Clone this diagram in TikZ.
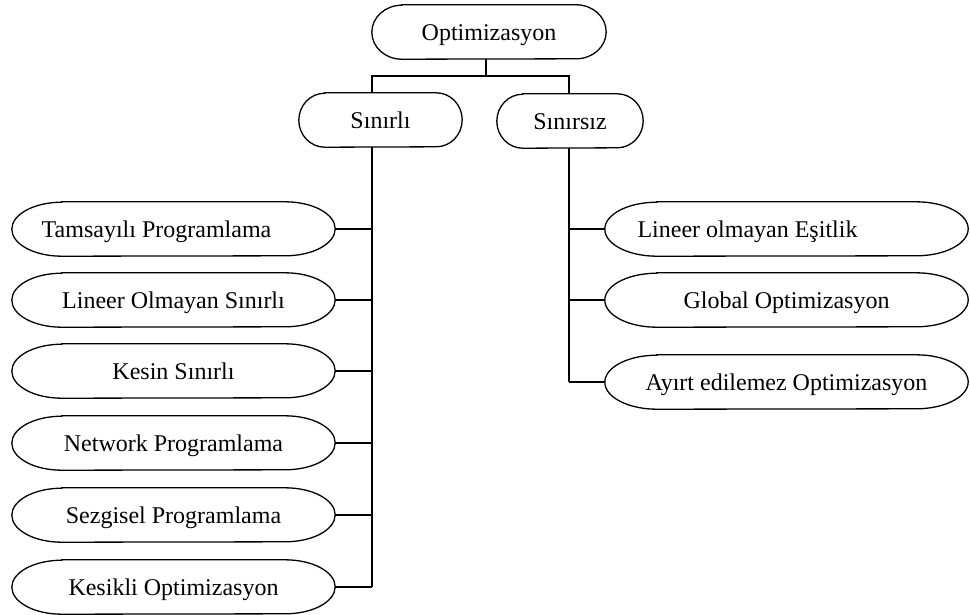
\documentclass[tikz,border=0pt]{standalone}
\usepackage{fontspec}
\setmainfont{Liberation Serif}
\usetikzlibrary{calc}

\tikzset{
  box/.style={draw=none, inner sep=0pt, text height=16pt, text depth=0pt,
    font=\fontsize{24}{28}\selectfont},
  outline/.style={draw=black, line width=1.3pt},
  link/.style={draw=black, line width=1.3pt}
}

\begin{document}
\begin{tikzpicture}[x=1pt, y=-1pt]
  \useasboundingbox (0,0) rectangle (970,614);

  % top levels
  \node[box, minimum width=234pt, minimum height=54pt] (opt) at (489,32) {Optimizasyon};
  \node[box, minimum width=163pt, minimum height=54pt] (sl) at (380.5,120) {Sınırlı};
  \node[box, minimum width=146pt, minimum height=54pt] (ss) at (570,121) {Sınırsız};

  % constrained methods
  \node[box, minimum width=323pt, minimum height=54pt] (l1) at (173.5,229) {Tamsayılı Programlama\kern34pt};
  \node[box, minimum width=323pt, minimum height=54pt] (l2) at (173.5,300) {Lineer Olmayan Sınırlı};
  \node[box, minimum width=323pt, minimum height=54pt] (l3) at (173.5,371) {Kesin Sınırlı};
  \node[box, minimum width=323pt, minimum height=54pt] (l4) at (173.5,443) {Network Programlama};
  \node[box, minimum width=323pt, minimum height=54pt] (l5) at (173.5,515) {Sezgisel Programlama};
  \node[box, minimum width=323pt, minimum height=54pt] (l6) at (173.5,587) {Kesikli Optimizasyon};

  % unconstrained methods
  \node[box, minimum width=363pt, minimum height=54pt] (r1) at (786.5,229) {Lineer olmayan Eşitlik\kern78pt};
  \node[box, minimum width=363pt, minimum height=54pt] (r2) at (786.5,300) {Global Optimizasyon};
  \node[box, minimum width=363pt, minimum height=54pt] (r3) at (786.5,382) {Ayırt edilemez Optimizasyon};

  % rounded outlines (elliptic ends)
  \foreach \n/\r in {opt/30, sl/26, ss/26, l1/50, l2/50, l3/50, l4/50, l5/50, l6/50, r1/52, r2/52, r3/52}{
    \draw[outline] ([xshift=\r pt]\n.north west) -- ([xshift=-\r pt]\n.north east)
      arc[start angle=90, end angle=-90, x radius=\r pt, y radius=27pt]
      -- ([xshift=\r pt]\n.south west)
      arc[start angle=270, end angle=90, x radius=\r pt, y radius=27pt] -- cycle;
  }

  % tree connectors
  \coordinate (busL) at (372,76);
  \coordinate (busR) at (569,76);
  \draw[link] ([xshift=-3pt]opt.south) -- ([xshift=-3pt]opt.south |- busL);
  \draw[link] (busL |- sl.north) -- (busL) -- (busR) -- (busR |- ss.north);

  \draw[link] (busL |- sl.south) -- (busL |- l6.east);
  \foreach \n in {l1,l2,l3,l4,l5,l6}
    \draw[link] (\n.east) -- (busL |- \n.east);

  \draw[link] (busR |- ss.south) -- (busR |- r3.west);
  \foreach \n in {r1,r2,r3}
    \draw[link] (\n.west) -- (busR |- \n.west);
\end{tikzpicture}
\end{document}
